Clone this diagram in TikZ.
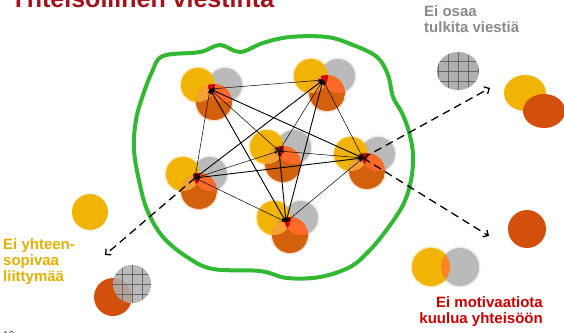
\documentclass[tikz,border=0pt]{standalone}
\usepackage{fontspec}
\setmainfont{Liberation Sans}
\usetikzlibrary{arrows.meta,patterns}
\definecolor{cyellow}{HTML}{F1B306}
\definecolor{cgray}{HTML}{BABABA}
\definecolor{cdark}{HTML}{D2600C}
\definecolor{clight}{HTML}{F8A133}
\definecolor{cbright}{HTML}{FF6A28}
\definecolor{cred}{HTML}{D00A00}
\definecolor{corange}{HTML}{D24F0C}
\definecolor{cmix}{HTML}{F7861F}
\definecolor{hgray}{HTML}{ADADAD}
\definecolor{blobgreen}{HTML}{33B833}
\definecolor{titlered}{HTML}{A5121C}
\definecolor{txtred}{HTML}{CC0000}
\definecolor{txtgold}{HTML}{E2B000}
\definecolor{txtgray}{HTML}{8A8A8A}
\tikzset{
  cluster/.pic={
    \fill[cgray,opacity=0.3] (15,-4) circle (18.5);
    \fill[cyellow,opacity=0.3] (-12,-4) circle (18.5);
    \fill[cdark,opacity=0.2] (4,13) circle (19.5);
    \fill[cgray] (15,-4) circle (17);
    \fill[cyellow] (-12,-4) circle (17);
    \begin{scope}
      \clip (4,13) circle (18);
      \fill[cdark] (4,13) circle (18);
      \begin{scope}
        \clip (-12,-4) circle (17);
        \fill[clight] (-12,-4) circle (17);
      \end{scope}
      \begin{scope}
        \clip (15,-4) circle (17);
        \fill[cbright] (15,-4) circle (17);
        \clip (-12,-4) circle (17);
        \fill[cred] (-12,-4) circle (17);
      \end{scope}
    \end{scope}
  },
  thinedge/.style={line width=0.5pt,{Stealth[length=5pt,width=3.5pt]}-{Stealth[length=5pt,width=3.5pt]}},
  thickedge/.style={line width=0.9pt,{Stealth[length=5pt,width=4pt]}-{Stealth[length=5pt,width=4pt]}},
  dasharrow/.style={line width=1.3pt,dash pattern=on 8pt off 5pt,-{Straight Barb[length=4pt,width=8pt]}},
  blob/.style={blobgreen,line width=4pt,line join=round},
  lbl/.style={font=\bfseries\fontsize{15}{16}\selectfont,inner sep=0pt,align=left},
  hline/.style={black!60,line width=0.5pt}
}
\begin{document}
\begin{tikzpicture}[x=1pt,y=-1pt]
\useasboundingbox (0,0) rectangle (564,332);
\fill[white] (0,0) rectangle (564,332);

% title (cut by the top edge, as in the reference)
\node[anchor=base west,inner sep=0pt,text=titlered,font=\bfseries\fontsize{25}{25}\selectfont] (title) at (10,7) {Yhteisöllinen viestintä};

% green community outline
\draw[blob] plot[smooth cycle,tension=0.6] coordinates {
 (163,56) (200,52) (220,45) (240,52) (263,43) (290,37) (327,37) (353,45) (377,57) (388,75) (393,97)
 (402,113) (409,132) (413,155) (411,180) (403,205) (385,232) (368,252) (350,267) (320,277) (287,278)
 (260,271) (213,269) (187,257) (163,237) (148,212) (140,185) (134,150) (136,120) (143,95) (152,72)};

% clusters
\coordinate (A) at (210,89);
\coordinate (B) at (323,80);
\coordinate (C) at (279,151);
\coordinate (D) at (195,178);
\coordinate (E) at (363,158);
\coordinate (F) at (286,222);
\foreach \p in {A,B,C,D,E,F} { \pic at (\p) {cluster}; }

% edges
\draw[thinedge] (A) -- (B);
\draw[thinedge] (A) -- (D);
\draw[thinedge] (A) -- (C);
\draw[thickedge] (A) -- (E);
\draw[thickedge] (A) -- (F);
\draw[thinedge] (B) -- (C);
\draw[thickedge] (B) -- (D);
\draw[thinedge] (B) -- (E);
\draw[thickedge] (B) -- (F);
\draw[thinedge] (C) -- (D);
\draw[thinedge] (C) -- (E);
\draw[thickedge] (C) -- (F);
\draw[thickedge] (D) -- (E);
\draw[thinedge] (D) -- (F);
\draw[thinedge] (E) -- (F);

% dashed arrows
\coordinate (t1) at (490,88);
\coordinate (t2) at (489,236);
\coordinate (t3) at (105,255);
\draw[dasharrow] (E) -- (t1);
\draw[dasharrow] (E) -- (t2);
\draw[dasharrow] (D) -- (t3);

% top right: hatched gray, yellow + orange
\begin{scope}
  \clip (458,71) ellipse [x radius=21, y radius=19];
  \fill[hgray] (436,51) rectangle (480,91);
  \fill[pattern=crosshatch,pattern color=black!30] (436,51) rectangle (480,91);
  \foreach \i in {-3,...,3} {
    \draw[hline] ({458+\i*10},50) -- ({458+\i*10},92);
    \draw[hline] (435,{71+\i*10}) -- (481,{71+\i*10});
  }
\end{scope}
\fill[cyellow] (525,93) ellipse [x radius=21, y radius=18];
\fill[corange] (544,111) ellipse [x radius=21, y radius=17];

% right: orange circle
\fill[corange] (527,229) circle (19);

% bottom right: blurred yellow + gray
\fill[cgray,opacity=0.3] (460,267) circle (20.5);
\fill[cyellow,opacity=0.3] (431,267) circle (20.5);
\fill[cgray] (460,267) circle (19);
\fill[cyellow] (431,267) circle (19);
\begin{scope}
  \clip (460,267) circle (19);
  \fill[cmix] (431,267) circle (19);
\end{scope}

% left: yellow, orange, hatched gray
\fill[cyellow] (90,212) circle (18);
\fill[corange] (113,297) circle (19);
\begin{scope}
  \clip (132,284) circle (19);
  \fill[hgray,opacity=0.7] (112,264) rectangle (152,304);
  \fill[pattern=crosshatch,pattern color=black!30] (112,264) rectangle (152,304);
  \foreach \i in {-3,...,3} {
    \draw[hline] ({132+\i*10},262) -- ({132+\i*10},306);
    \draw[hline] (110,{284+\i*10}) -- (154,{284+\i*10});
  }
\end{scope}

% labels (base anchor = baseline of the last line)
\node[lbl,text=txtgray,anchor=base west] (l1) at (424,32) {Ei osaa\\tulkita viestiä};
\node[lbl,text=txtgold,anchor=base west] (l2) at (3,281) {Ei yhteen-\\sopivaa\\liittymää};
\node[lbl,text=txtred,anchor=base east,align=right] (l3) at (543,323) {Ei motivaatiota\\kuulua yhteisöön};
\node[anchor=base west,inner sep=0pt,text=black!75,font=\fontsize{10}{10}\selectfont] (pg) at (3,338) {10};
\end{tikzpicture}
\end{document}
